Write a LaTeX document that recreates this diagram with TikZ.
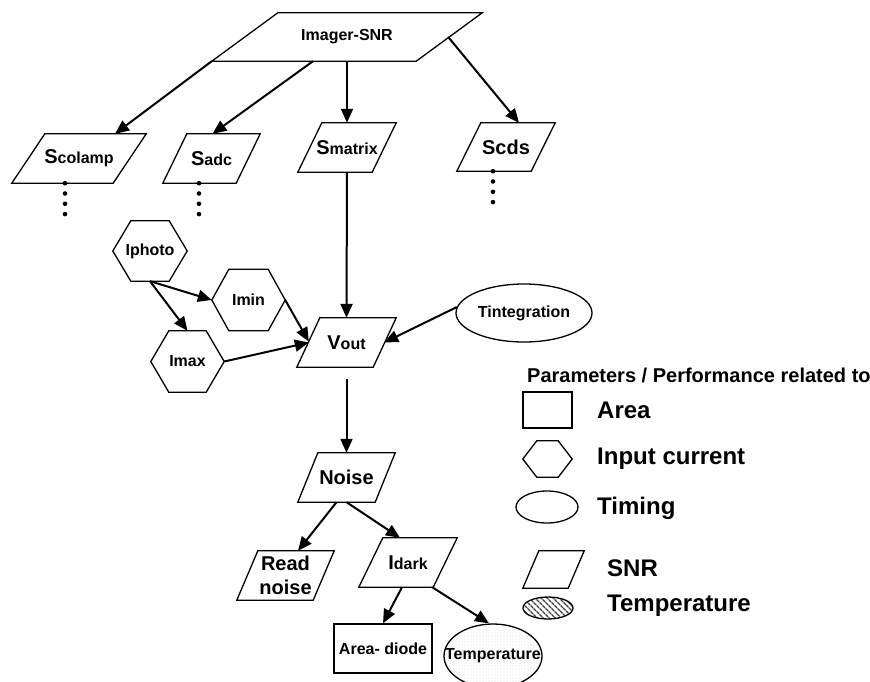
\documentclass[tikz,border=0pt]{standalone}
\usepackage{fontspec}
\setmainfont{Liberation Sans}
\usetikzlibrary{shapes.geometric,arrows.meta,calc,patterns.meta}

% larger initial letter inside a label
\newcommand\initial[1]{{\fontsize{20}{24}\selectfont #1}}

% outline of a right-leaning parallelogram over a rectangular node
\newcommand\paraoutline[2]{%
  \draw[outline] (#1.south west) -- ($(#1.north west)+(#2,0)$) -- (#1.north east)
    -- ($(#1.south east)+(-#2,0)$) -- cycle;}

% outline of a flat-topped hexagon over a rectangular node
\newcommand\hexoutline[2]{%
  \draw[outline] (#1.west) -- ($(#1.north west)+(#2,0)$) -- ($(#1.north east)+(-#2,0)$)
    -- (#1.east) -- ($(#1.south east)+(-#2,0)$) -- ($(#1.south west)+(#2,0)$) -- cycle;}

\tikzset{
  outline/.style={draw=black, line width=1.3pt, line join=miter},
  box/.style={draw=none, inner sep=0pt, font=\fontsize{16}{19}\selectfont\bfseries},
  bigbox/.style={box, font=\fontsize{20}{24}\selectfont\bfseries},
  oval/.style={ellipse, outline, inner sep=0pt, font=\fontsize{16}{19}\selectfont\bfseries},
  arr/.style={draw=black, line width=2pt, -{Triangle[length=14pt,width=12pt]}},
  legendtext/.style={anchor=west, inner sep=0pt, font=\fontsize{24}{28}\selectfont\bfseries},
  dot/.style={fill=black},
}

\begin{document}
\begin{tikzpicture}[x=1pt,y=-1pt]
\useasboundingbox (0,0) rectangle (870,681);

% ---------- SNR tree ----------
\node[box, minimum width=270pt, minimum height=48pt] (imager) at (347,37) {Imager-SNR};
\paraoutline{imager}{66}

\node[box, minimum width=134pt, minimum height=49pt] (scolamp) at (79,158.5) {\initial{S}colamp};
\paraoutline{scolamp}{33}
\node[box, minimum width=97pt, minimum height=49pt] (sadc) at (211.5,158.5) {\initial{S}adc};
\paraoutline{sadc}{24}
\node[box, minimum width=98pt, minimum height=49pt] (smatrix) at (347,147.5) {\initial{S}matrix};
\paraoutline{smatrix}{24}
\node[bigbox, minimum width=98pt, minimum height=48pt] (scds) at (506,147) {Scds};
\paraoutline{scds}{24}

% continuation dots
\foreach \k in {0,...,3}{
  \fill[dot] ($(scolamp.south)+(-14,10.3*\k)$) circle (2.3pt);
  \fill[dot] ($(sadc.south)+(-12.5,10.3*\k)$) circle (2.3pt);
  \fill[dot] ($(scds.south)+(-13,10.3*\k)$) circle (2.3pt);
}

% input currents
\node[box, minimum width=74pt, minimum height=60pt] (iphoto) at (150,251) {Iphoto};
\hexoutline{iphoto}{18}
\node[box, minimum width=73pt, minimum height=61pt] (imin) at (248.5,300) {Imin};
\hexoutline{imin}{17}
\node[box, minimum width=73pt, minimum height=61pt] (imax) at (187.5,361.5) {Imax};
\hexoutline{imax}{18}

\node[box, minimum width=99pt, minimum height=49pt] (vout) at (346.5,342.5) {\initial{V}out};
\paraoutline{vout}{23}
\node[oval, minimum width=136pt, minimum height=58pt] (tint) at (524,313) {Tintegration};

\node[bigbox, minimum width=97pt, minimum height=49pt] (noise) at (346.5,477.5) {Noise};
\paraoutline{noise}{20}
\node[bigbox, minimum width=97pt, minimum height=49pt, align=center] (readn) at (285.5,575.5) {Read\\noise};
\paraoutline{readn}{21}
\node[box, minimum width=98pt, minimum height=49pt] (idark) at (408,562.5) {\initial{I}dark};
\paraoutline{idark}{24}

\node[box, outline, minimum width=98pt, minimum height=49pt] (area) at (383,648.5) {Area- diode};
\node[oval, minimum width=98pt, minimum height=64pt,
      pattern={Dots[distance=3pt, radius=0.45pt]}, pattern color=gray!75,
      label={[box]center:Temperature}] (temp) at (493,656) {};

% ---------- connectors ----------
\draw[arr] (imager.south west) -- ($(scolamp.north)+(36,0)$);
\draw[arr] ($(imager.south)+(-34,0)$) -- ($(sadc.north)+(1,0)$);
\draw[arr] (imager.south) -- (smatrix.north);
\draw[arr] ($(imager.east)+(-34,0)$) -- ($(scds.north)+(13,0)$);

\draw[arr] (iphoto.south) -- (imin.west);
\draw[arr] (iphoto.south) -- (imax.north);
\draw[arr] (imin.east) -- ($(vout.west)+(12,-1)$);
\draw[arr] (imax.east) -- ($(vout.west)+(12,0)$);
\draw[arr] (smatrix.south) -- (vout.north);
\draw[arr] (tint.175) -- ($(vout.east)+(-12,0)$);

\draw[arr, shorten <=12pt] (vout.south) -- (noise.north);
\draw[arr] ($(noise.south)+(-10,0)$) -- ($(readn.north)+(12.5,0)$);
\draw[arr] (noise.south) -- ($(idark.north)+(-8,0)$);
\draw[arr] ($(idark.south)+(-6,0)$) -- (area.north);
\draw[arr] ($(idark.south east)+(-25,0)$) -- ($(temp.north)+(-4,0)$);

% ---------- legend ----------
\node[legendtext, font=\fontsize{20}{24}\selectfont\bfseries] (lghdr) at (527,375) {Parameters / Performance related to};

\node[box, outline, minimum width=49pt, minimum height=36pt] (lgarea) at (547.5,410) {};
\node[legendtext] (lgareat) at (597,410) {Area};

\node[box, minimum width=49pt, minimum height=36pt] (lghex) at (547.5,459) {};
\hexoutline{lghex}{14}
\node[legendtext] (lghext) at (597,459) {Input current};

\node[oval, minimum width=62pt, minimum height=32pt] (lgtime) at (547,507) {};
\node[legendtext] (lgtimet) at (597,508) {Timing};

\node[box, minimum width=61pt, minimum height=37pt] (lgsnr) at (553.5,569.5) {};
\paraoutline{lgsnr}{16}
\node[legendtext] (lgsnrt) at (607,568) {SNR};

\node[oval, minimum width=50pt, minimum height=22pt,
      pattern={Lines[angle=-45, distance=4pt, line width=1.5pt]}, pattern color=black!75] (lgtemp) at (548,608) {};
\node[legendtext] (lgtempt) at (607,606) {Temperature};
\end{tikzpicture}
\end{document}
